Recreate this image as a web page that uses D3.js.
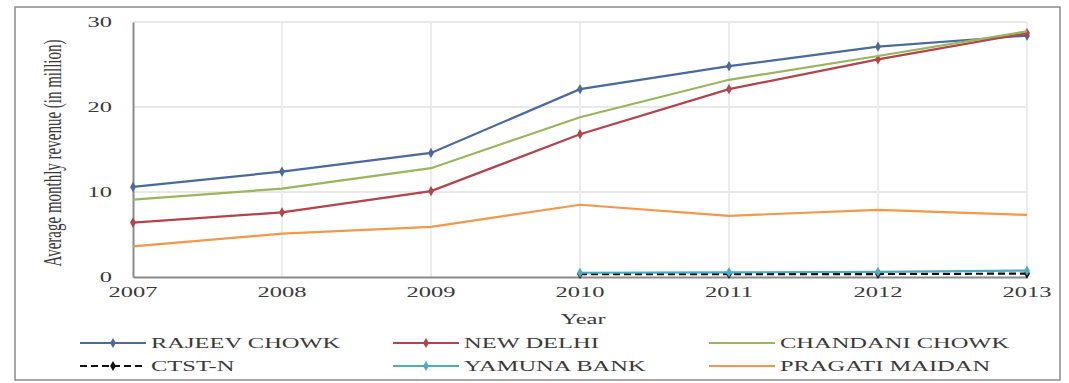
<!DOCTYPE html>
<html>
<head>
<meta charset="utf-8">
<script src="https://cdn.jsdelivr.net/npm/d3@7"></script>
<style>
  body { margin: 0; background: #fff; }
  text { font-family: "Liberation Serif", "DejaVu Serif", serif; fill: #3a3a3a; }
</style>
</head>
<body>
<svg id="chart" width="1069" height="383"></svg>
<script>
const years = [2007, 2008, 2009, 2010, 2011, 2012, 2013]
const yTicks = [0, 10, 20, 30]

const rajeevChowk = [10.6, 12.4, 14.6, 22.1, 24.8, 27.1, 28.4]
const newDelhi = [6.4, 7.6, 10.1, 16.8, 22.1, 25.6, 28.7]
const chandaniChowk = [9.1, 10.4, 12.8, 18.8, 23.2, 26.0, 28.9]
const ctstN = [null, null, null, 0.35, 0.35, 0.35, 0.4]
const yamunaBank = [null, null, null, 0.5, 0.55, 0.6, 0.75]
const pragatiMaidan = [3.6, 5.1, 5.9, 8.5, 7.2, 7.9, 7.3]

const seriesNames = ["RAJEEV CHOWK", "NEW DELHI", "CHANDANI CHOWK", "CTST-N", "YAMUNA BANK", "PRAGATI MAIDAN"]

var series = [
  {name: seriesNames[0], values: rajeevChowk, color: "#4a6a9c", dash: null, marker: true},
  {name: seriesNames[1], values: newDelhi, color: "#b5434a", dash: null, marker: true},
  {name: seriesNames[2], values: chandaniChowk, color: "#98b65a", dash: null, marker: false},
  {name: seriesNames[3], values: ctstN, color: "#111111", dash: "7,4", marker: true},
  {name: seriesNames[4], values: yamunaBank, color: "#4bacc6", dash: null, marker: true},
  {name: seriesNames[5], values: pragatiMaidan, color: "#f79646", dash: null, marker: false}
]

var sx = 1.75 // the picture's text looks stretched sideways
var svg = d3.select("#chart")

// outer frame
svg.append("rect")
  .attr("x", 15).attr("y", 7).attr("width", 1045).attr("height", 373)
  .attr("fill", "none").attr("stroke", "#8c8c8c").attr("stroke-width", 1.5)

var x = d3.scalePoint().domain(years).range([133, 1027])
var y = d3.scaleLinear().domain([0, 30]).range([277, 22])

function label(g, tx, ty, txt, size, anchor) {
  return g.append("text")
    .attr("transform", `translate(${tx},${ty}) scale(${sx},1)`)
    .attr("text-anchor", anchor)
    .attr("dominant-baseline", "central")
    .style("font-size", size + "px")
    .text(txt)
}

// grid
var grid = svg.append("g")
grid.selectAll("line.h")
  .data(yTicks.slice(1))
  .join("line")
  .attr("x1", 133).attr("x2", 1027)
  .attr("y1", d => y(d)).attr("y2", d => y(d))
  .attr("stroke", "#e2e2e2").attr("stroke-width", 1.5)
grid.selectAll("line.v")
  .data(years.slice(1))
  .join("line")
  .attr("x1", d => x(d)).attr("x2", d => x(d))
  .attr("y1", y(30)).attr("y2", y(0))
  .attr("stroke", "#ececec").attr("stroke-width", 2)

// axes
var xAxis = g => g
  .attr("transform", `translate(0,${y(0)})`)
  .call(d3.axisBottom(x).tickSize(0).tickFormat(""))
var yAxis = g => g
  .attr("transform", `translate(${x(2007)},0)`)
  .call(d3.axisLeft(y).tickValues(yTicks).tickSize(0).tickFormat(""))

svg.append("g").call(xAxis).select(".domain").attr("stroke", "#8a8a8a").attr("stroke-width", 2)
svg.append("g").call(yAxis).select(".domain").attr("stroke", "#8a8a8a").attr("stroke-width", 2)

var labels = svg.append("g")
years.forEach(d => label(labels, x(d), 292, d, 14, "middle"))
yTicks.forEach(d => label(labels, 112, y(d), d, 14, "end"))
label(labels, 583, 319, "Year", 14, "middle")
labels.append("text")
  .attr("transform", `translate(52,153) scale(${sx},1) rotate(-90)`)
  .attr("text-anchor", "middle")
  .attr("dominant-baseline", "central")
  .style("font-size", "15px")
  .text("Average monthly revenue (in million)")

// lines
var line = d3.line()
  .defined(d => d.v != null)
  .x(d => x(d.year))
  .y(d => y(d.v))

var plot = svg.append("g")
series.forEach(s => {
  var pts = years.map((yr, i) => ({year: yr, v: s.values[i]}))
  plot.append("path")
    .datum(pts)
    .attr("fill", "none")
    .attr("stroke", s.color)
    .attr("stroke-width", 2.2)
    .attr("stroke-dasharray", s.dash)
    .attr("d", line)
  if (s.marker) {
    plot.selectAll(null)
      .data(pts.filter(d => d.v != null))
      .join("path")
      .attr("transform", d => `translate(${x(d.year)},${y(d.v)})`)
      .attr("d", d3.symbol(d3.symbolDiamond, 30))
      .attr("fill", s.color)
  }
})

// legend
var legendCols = [80, 393, 709]
var legendRows = [343, 366]
var legend = svg.append("g")
series.forEach((s, i) => {
  var lx = legendCols[i % 3], ly = legendRows[Math.floor(i / 3)]
  legend.append("line")
    .attr("x1", lx).attr("x2", lx + 66)
    .attr("y1", ly).attr("y2", ly)
    .attr("stroke", s.color).attr("stroke-width", 2.2)
    .attr("stroke-dasharray", s.dash)
  if (s.marker) {
    legend.append("path")
      .attr("transform", `translate(${lx + 33},${ly})`)
      .attr("d", d3.symbol(d3.symbolDiamond, 30))
      .attr("fill", s.color)
  }
  label(legend, lx + 71, ly, s.name, 14, "start")
})
</script>
</body>
</html>
